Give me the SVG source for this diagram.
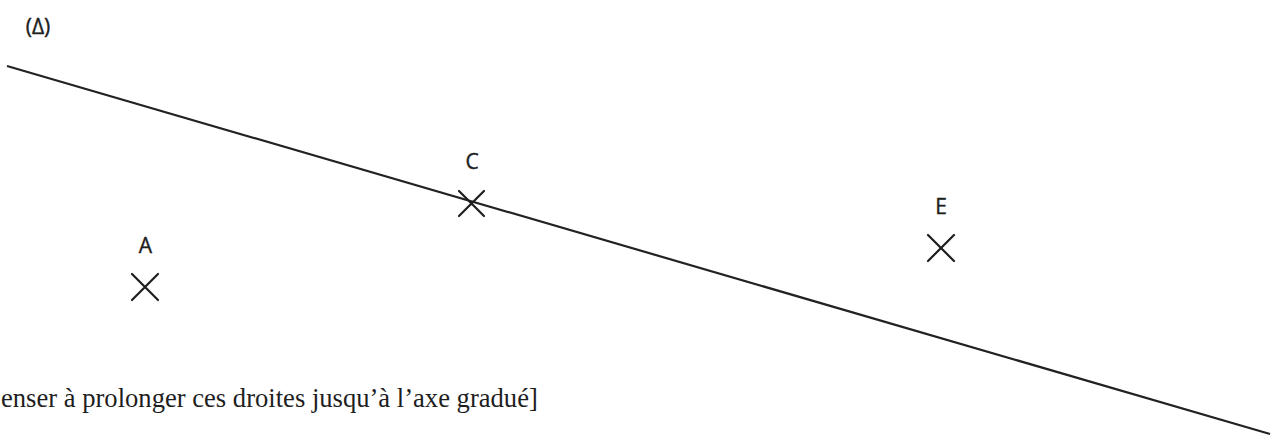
<svg xmlns="http://www.w3.org/2000/svg" width="1277" height="437" viewBox="0 0 1277 437">
<style>
.lbl{font-family:"Open Sans","Liberation Sans",sans-serif;font-size:21px;fill:#1e1e1e;stroke:#1e1e1e;stroke-width:0.4;text-anchor:middle}
.x{stroke:#1e1e1e;stroke-width:2.2;fill:none;stroke-linecap:round}
.ln{stroke:#222;stroke-width:2.2;fill:none}
.note{font-family:"Liberation Serif",serif;font-size:26.6px;fill:#1e1e1e}
</style>
<rect width="1277" height="437" fill="#fff"/>
<g id="connectors">
<line class="ln" x1="7" y1="66" x2="1270" y2="434"/>
</g>
<g id="delta">
<text class="lbl" x="38" y="34">(Δ)</text>
</g>
<g id="C">
<text class="lbl" x="472" y="169">C</text>
<path class="x" d="M459 191 L484 216 M484 191 L459 216"/>
</g>
<g id="A">
<text class="lbl" x="145.5" y="253">A</text>
<path class="x" d="M132 274 L158 300 M158 274 L132 300"/>
</g>
<g id="E">
<text class="lbl" x="941" y="214">E</text>
<path class="x" d="M928 235 L954 261 M954 235 L928 261"/>
</g>
<text class="note" x="1" y="407">enser à prolonger ces droites jusqu’à l’axe gradué]</text>
</svg>
